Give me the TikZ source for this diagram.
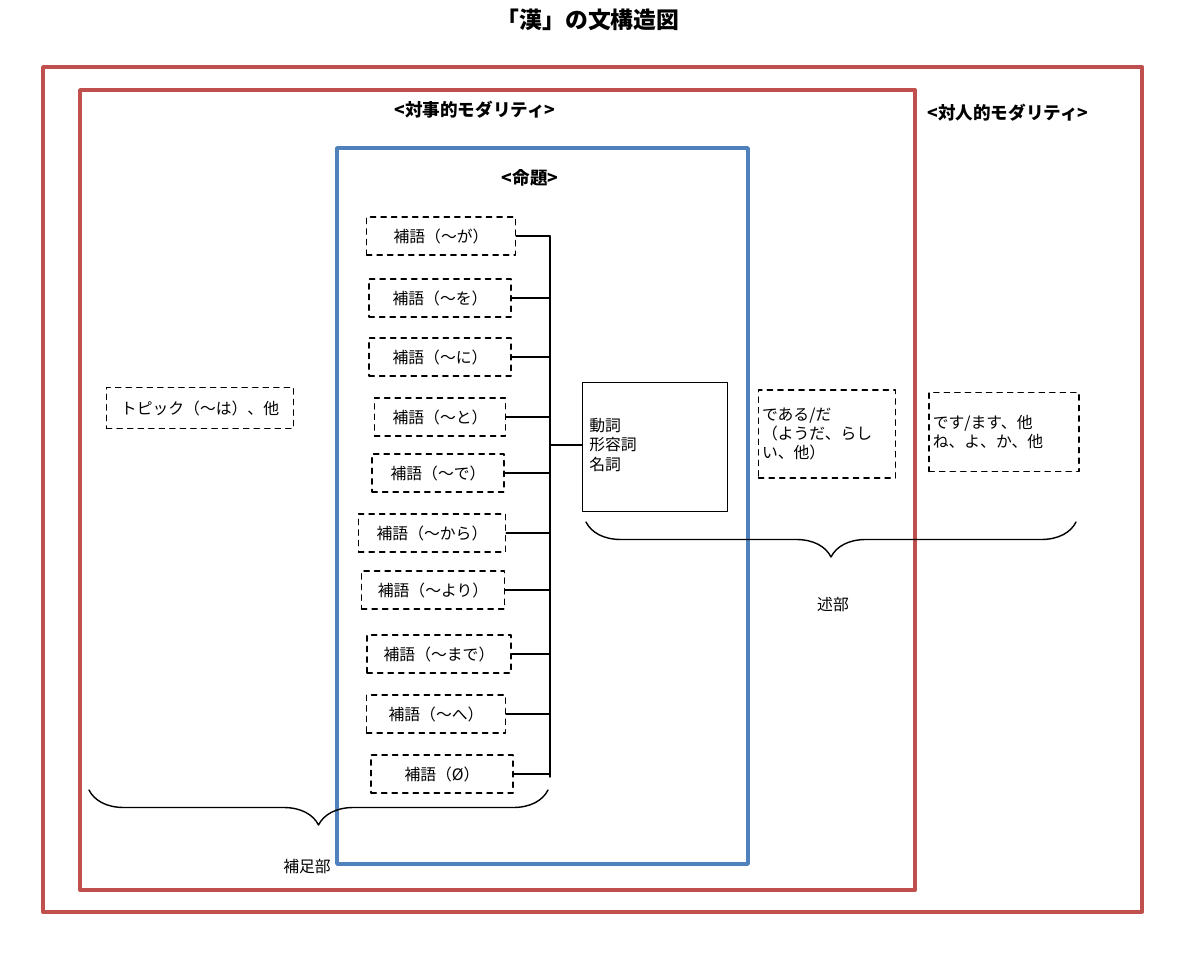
\documentclass[tikz,border=0pt]{standalone}
\usepackage{fontspec}
\setmainfont{Noto Sans CJK JP}
\usetikzlibrary{positioning,decorations.pathreplacing}
\definecolor{frame red}{HTML}{C0504D}
\definecolor{frame blue}{HTML}{4F81BD}
\tikzset{
  dbox/.style={draw, dashed, thick, inner sep=0pt, font=\fontsize{9}{11}\selectfont},
  redframe/.style={draw=frame red, line width=2.2pt},
  head/.style={font=\fontsize{10}{12}\selectfont\bfseries},
  brc/.style={decorate, decoration={brace, mirror, amplitude=0.7cm}, thick},
}
\begin{document}
\begin{tikzpicture}[x=0.02cm, y=-0.02cm, line cap=round, line join=round]
  \useasboundingbox (0,0) rectangle (1200,956);
  \node[font=\fontsize{13}{15}\selectfont\bfseries] (title) at (588,20) {「漢」の文構造図};
  % frames
  \draw[redframe] (43,67) rectangle (1142,912);
  \draw[redframe] (80,90) rectangle (915,890);
  \draw[draw=frame blue, line width=2pt] (337,148) rectangle (748,864);
  \node[head] (taiji) at (475,110) {<対事的モダリティ>};
  \node[head] (taijin) at (1008,113) {<対人的モダリティ>};
  \node[head] (meidai) at (530,178) {<命題>};
  % complements
  \coordinate (top) at (550,236);
  \coordinate (bot) at (550,777);
  \draw[thick] (top) -- (bot);
  \foreach \i/\cx/\cy/\w/\lab in {1/441/236/149/が, 2/440/298/142/を, 3/440/357/142/に,
      4/440/417/131/と, 5/438/473/132/で, 6/432/533/147/から, 7/433/590/143/より,
      8/439/654/144/まで, 9/436/714/139/へ}{
    \node[dbox, minimum width=\w*0.02cm, minimum height=0.76cm] (h\i) at (\cx,\cy) {補語（～\lab）};
    \draw[thick] (h\i.east) -- (550,\cy);
  }
  \node[dbox, minimum width=2.84cm, minimum height=0.76cm] (h10) at (442,774) {補語（Ø）};
  \draw[thick] (h10.east) -- (550,774);
  % predicate
  \node[draw, thick, minimum width=2.9cm, minimum height=2.58cm, inner sep=0pt] (verb) at (655,447) {};
  \node[anchor=north west, align=left, inner sep=0pt, font=\fontsize{9}{11}\selectfont] (pos) at (589,418) {動詞\\形容詞\\名詞};
  \draw[thick] (550,445) -- (verb.west |- 0,445);
  \node[dbox, minimum width=3.74cm, minimum height=0.82cm] (topic) at (200,408) {トピック（～は）、他};
  \node[dbox, minimum width=2.74cm, minimum height=1.76cm, align=left, text width=2.6cm] (daro) at (827,434) {である/だ\\（ようだ、らし\\い、他）};
  \node[dbox, minimum width=3cm, minimum height=1.58cm, align=left, text width=2.85cm] (desu) at (1004,432) {です/ます、他\\ね、よ、か、他};
  % braces
  \draw[brc] (586,522) -- (1076,522);
  \node[font=\fontsize{9}{11}\selectfont] (jutsu) at (833,605) {述部};
  \draw[brc] (89,790) -- (548,790);
  \node[font=\fontsize{9}{11}\selectfont] (hosoku) at (307,866) {補足部};
\end{tikzpicture}
\end{document}
